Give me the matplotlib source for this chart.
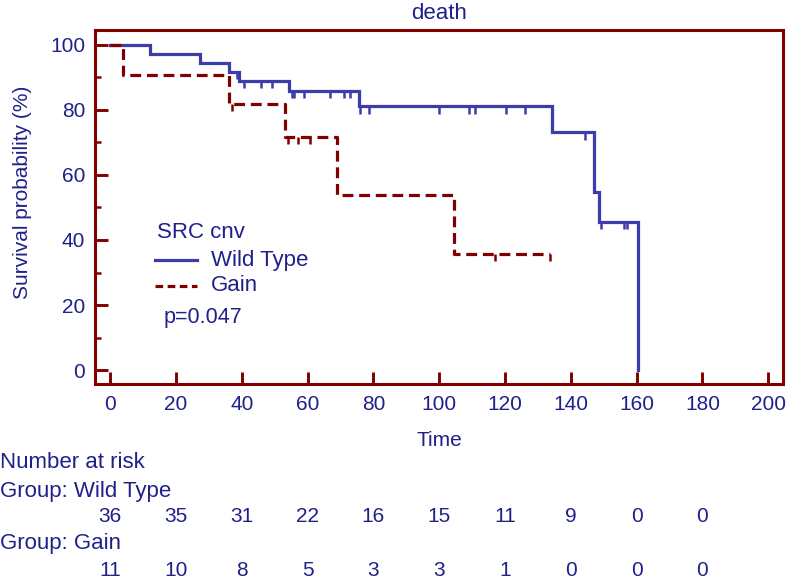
import numpy as np
import matplotlib
matplotlib.use('Agg')
import matplotlib.pyplot as plt
from matplotlib import transforms
from matplotlib.lines import Line2D
from matplotlib.ticker import MultipleLocator

plt.rcParams['font.family'] = ['Liberation Sans', 'DejaVu Sans']

# Wild Type: step times and survival (%)
wt_times = [0, 12.2, 27.2, 36.0, 39.2, 54.4, 75.5, 134.2, 147.2, 148.6, 160.4]
wt_surv = [100, 97.2, 94.4, 91.7, 88.9, 85.8, 81.1, 73.1, 54.8, 45.6, 0]
wt_censored = [38.7, 40.7, 45.8, 49.1, 55.2, 55.9, 59.0, 66.9, 71.1, 72.9, 76.0,
               78.8, 100.1, 109.2, 110.9, 120.3, 126.1, 144.2, 149.1, 156.2, 157.0]

# Gain
gn_times = [0, 4.0, 36.0, 53.2, 69.1, 104.4, 133.7]
gn_surv = [100, 90.9, 81.8, 71.6, 53.7, 35.8, 35.8]
gn_censored = [37.0, 54.2, 57.2, 60.8, 117.0, 133.7]

risk_times = [0, 20, 40, 60, 80, 100, 120, 140, 160, 180]
risk_wt = [36, 35, 31, 22, 16, 15, 11, 9, 0, 0]
risk_gn = [11, 10, 8, 5, 3, 3, 1, 0, 0, 0]

BLUE = '#3c3cab'
RED = '#800000'
TXT = '#20208a'
FS = 15
FS2 = 16


def level_at(times, surv, t):
    i = np.searchsorted(times, t, side='right') - 1
    return np.asarray(surv)[i]


fig = plt.figure(figsize=(7.88, 5.80), dpi=100)
ax = fig.add_axes([95 / 788, 1 - 384 / 580, 688 / 788, 354 / 580])

ax.plot(wt_times, wt_surv, drawstyle='steps-post', color=BLUE, lw=2.3,
        solid_joinstyle='miter')
lv = level_at(wt_times, wt_surv, wt_censored)
ax.vlines(wt_censored, lv - 2.2, lv, color=BLUE, lw=1.8)

ax.plot(gn_times, gn_surv, drawstyle='steps-post', color=RED, lw=2.3,
        dashes=(3.4, 1.8))
lv = level_at(gn_times, gn_surv, gn_censored)
ax.vlines(gn_censored, lv - 2.2, lv, color=RED, lw=1.8)

ax.set_xlim(-4.6, 204.5)
ax.set_ylim(-4.3, 104.6)
ax.set_xticks(range(0, 201, 20))
ax.set_yticks(range(0, 101, 20))
ax.yaxis.set_minor_locator(MultipleLocator(10))
for s in ax.spines.values():
    s.set_color(RED)
    s.set_linewidth(2.2)
ax.tick_params(which='major', direction='in', length=9, width=2.1,
               color=RED, labelcolor=TXT, labelsize=FS)
ax.tick_params(which='minor', direction='in', length=4.5, width=1.8, color=RED)
ax.tick_params(axis='y', pad=7)
ax.tick_params(axis='x', pad=8)

ax.set_title('death', color=TXT, fontsize=FS2, pad=8)
ax.set_xlabel('Time', color=TXT, fontsize=FS, labelpad=12)
fig.text(23 / 788, 1 - 192 / 580, 'Survival probability (%)', color=TXT,
         fontsize=FS, rotation=90, ha='center', va='center')

# legend drawn by hand
ax.text(0.090, 0.429, 'SRC cnv', transform=ax.transAxes, color=TXT,
        fontsize=FS2, va='center')
ax.add_line(Line2D([0.087, 0.148], [0.350, 0.350], transform=ax.transAxes,
                   color=BLUE, lw=2.3))
ax.text(0.169, 0.350, 'Wild Type', transform=ax.transAxes, color=TXT,
        fontsize=FS2, va='center')
ax.add_line(Line2D([0.087, 0.148], [0.277, 0.277], transform=ax.transAxes,
                   color=RED, lw=2.3, dashes=(2.4, 1.4)))
ax.text(0.169, 0.277, 'Gain', transform=ax.transAxes, color=TXT,
        fontsize=FS2, va='center')
ax.text(0.099, 0.189, 'p=0.047', transform=ax.transAxes, color=TXT,
        fontsize=15.5, va='center')

# number at risk table
trans = transforms.blended_transform_factory(ax.transData, fig.transFigure)
fig.text(0.0, 1 - 463 / 580, 'Number at risk', color=TXT, fontsize=FS2, va='center')
fig.text(0.0, 1 - 492 / 580, 'Group: Wild Type', color=TXT, fontsize=FS2, va='center')
fig.text(0.0, 1 - 544 / 580, 'Group: Gain', color=TXT, fontsize=FS2, va='center')
for t, a, b in zip(risk_times, risk_wt, risk_gn):
    ax.text(t, 1 - 517 / 580, str(a), transform=trans, color=TXT, fontsize=FS,
            ha='center', va='center')
    ax.text(t, 1 - 570 / 580, str(b), transform=trans, color=TXT, fontsize=FS,
            ha='center', va='center')

fig.savefig('out.png', dpi=100)
